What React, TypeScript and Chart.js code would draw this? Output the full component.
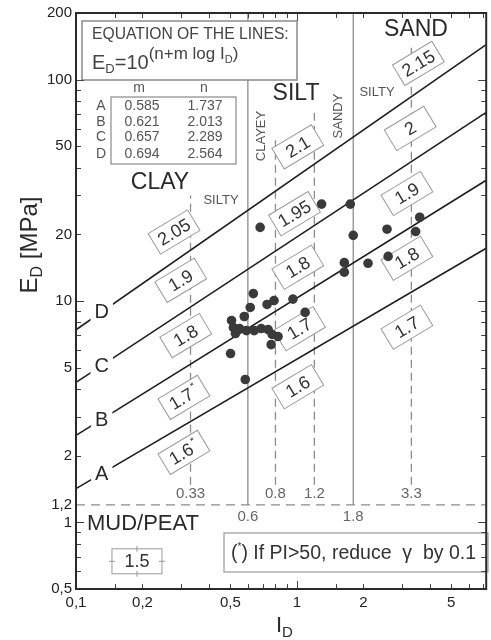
import React, { useEffect, useRef } from 'react';
import { Chart, registerables } from 'chart.js';

Chart.register(...registerables);

// ---------------- data ----------------
const lineNames = ['A', 'B', 'C', 'D'];
const tableM = ['0.585', '0.621', '0.657', '0.694'];
const tableN = ['1.737', '2.013', '2.289', '2.564'];
const lineStartID = [0.1, 0.1, 0.1, 0.1];
const lineEndID = [7.2, 7.2, 7.2, 7.2];
const lineStartED = [1.42, 2.47, 4.29, 7.41];
const lineEndED = [17.3, 35.1, 71.1, 144];
const letterID = 0.1308;

const pointID = [
  0.682, 1.294, 1.746, 1.8, 2.56, 3.6, 3.45, 1.64, 1.64, 2.1, 2.59,
  0.635, 0.788, 0.733, 0.96, 1.09, 0.615, 0.578, 0.506, 0.516, 0.55,
  0.591, 0.641, 0.69, 0.741, 0.773, 0.822, 0.765, 0.501, 0.584, 0.527,
];
const pointED = [
  21.5, 27.4, 27.4, 19.8, 21.1, 23.9, 20.6, 14.9, 13.5, 14.8, 15.9,
  10.8, 10.05, 9.65, 10.2, 8.88, 9.35, 8.51, 8.17, 7.58, 7.51,
  7.35, 7.35, 7.51, 7.43, 7.06, 6.91, 6.35, 5.79, 4.42, 7.13,
];

const xMin = 0.1;
const xMax = 7.2;
const yMin = 0.5;
const yMax = 200;

const xTickValues = [0.1, 0.2, 0.5, 1, 2, 5];
const xTickLabels = ['0,1', '0,2', '0,5', '1', '2', '5'];
const yTickValues = [0.5, 1, 1.2, 2, 5, 10, 20, 50, 100, 200];
const yTickLabels = ['0,5', '1', '1,2', '2', '5', '10', '20', '50', '100', '200'];

const xMinorMarks = [0.15, 0.2, 0.3, 0.4, 0.5, 0.6, 0.7, 0.8, 0.9, 1.5, 2, 3, 4, 5, 6, 7];
const xMajorMarks = [1];
const yMinorMarks = [0.6, 0.7, 0.8, 0.9, 2, 3, 4, 5, 6, 7, 8, 9, 20, 30, 40, 50, 60, 70, 80, 90];
const yMajorMarks = [1, 10, 100];

const mudLimit = 1.2;
const solidBounds = [0.6, 1.8];
const dashedBounds = [0.33, 0.8, 1.2, 3.3];
const dashedTops = [30.0, 53.3, 71.3, 143];
const dashedBottom = 1.48;
const boundLabelsUpper = ['0.33', '0.8', '1.2', '3.3'];
const boundLabelsLower = ['0.6', '1.8'];
const upperLabelED = 1.345;
const lowerLabelED = 1.06;

const gammaText = ['2.05', '1.9', '1.8', '1.7', '1.6', '2.1', '1.95', '1.8', '1.7', '1.6', '2.15', '2', '1.9', '1.8', '1.7'];
const gammaStar = [false, false, false, true, true, false, false, false, false, false, false, false, false, false, false];
const gammaID = [0.278, 0.298, 0.314, 0.308, 0.308, 1.01, 0.976, 1.01, 1.028, 1.01, 3.55, 3.26, 3.15, 3.15, 3.15];
const gammaED = [20.5, 12.4, 6.98, 3.67, 2.07, 49.7, 24.8, 14.2, 7.49, 4.1, 118.4, 60.2, 30.6, 15.6, 7.61];
const mudGammaText = '1.5';
const mudGammaID = 0.1888;
const mudGammaED = 0.667;

// ---------------- style helpers ----------------
const FAMILY = '"Liberation Sans", Arial, Helvetica, sans-serif';
const font = (size: number, weight = 'normal') => `${weight} ${size}px ${FAMILY}`;

function drawAnnotations(chart: any) {
  const { ctx, chartArea: a, scales } = chart;
  const xs = scales.x;
  const ys = scales.y;
  const X = (v: number) => xs.getPixelForValue(v);
  const Y = (v: number) => ys.getPixelForValue(v);
  const R = (rx: number, ry: number): [number, number] => [a.left + rx - 76, a.top + ry - 13];

  ctx.save();

  // ---- letters on lines ----
  lineNames.forEach((name, i) => {
    const x0 = X(lineStartID[i]);
    const y0 = Y(lineStartED[i]);
    const x1 = X(lineEndID[i]);
    const y1 = Y(lineEndED[i]);
    const lx = X(letterID);
    const ly = y0 + ((lx - x0) / (x1 - x0)) * (y1 - y0);
    ctx.font = font(20);
    const w = ctx.measureText(name).width;
    ctx.fillStyle = '#fff';
    ctx.fillRect(lx - w / 2 - 4, ly - 11, w + 8, 22);
    ctx.fillStyle = '#2a2a2a';
    ctx.textAlign = 'center';
    ctx.textBaseline = 'middle';
    ctx.fillText(name, lx, ly + 1);
  });

  // ---- boundary labels ----
  ctx.font = font(15);
  ctx.fillStyle = '#666';
  ctx.textAlign = 'center';
  ctx.textBaseline = 'middle';
  dashedBounds.forEach((v, i) => ctx.fillText(boundLabelsUpper[i], X(v), Y(upperLabelED)));
  solidBounds.forEach((v, i) => ctx.fillText(boundLabelsLower[i], X(v), Y(lowerLabelED)));

  // ---- gamma boxes ----
  const slope = 0.6;
  const angle = Math.atan2(Y(Math.pow(10, slope)) - Y(1), X(10) - X(1));
  gammaText.forEach((t, i) => {
    const cx = X(gammaID[i]);
    const cy = Y(gammaED[i]);
    ctx.save();
    ctx.translate(cx, cy);
    ctx.rotate(angle);
    const w = 46;
    const h = 24;
    ctx.fillStyle = '#fff';
    ctx.fillRect(-w / 2, -h / 2, w, h);
    ctx.strokeStyle = '#9a9a9a';
    ctx.lineWidth = 1;
    ctx.strokeRect(-w / 2, -h / 2, w, h);
    ctx.fillStyle = '#333';
    ctx.font = font(18);
    ctx.textAlign = 'center';
    ctx.textBaseline = 'middle';
    const tw = ctx.measureText(t).width;
    ctx.fillText(t, gammaStar[i] ? -3 : 0, 1);
    if (gammaStar[i]) {
      ctx.font = font(10);
      ctx.fillText('*', tw / 2 + 1, -5);
    }
    ctx.restore();
  });

  // mud gamma box (not rotated)
  {
    const cx = X(mudGammaID);
    const cy = Y(mudGammaED);
    const w = 50;
    const h = 25;
    ctx.fillStyle = '#fff';
    ctx.fillRect(cx - w / 2, cy - h / 2, w, h);
    ctx.strokeStyle = '#9a9a9a';
    ctx.lineWidth = 1;
    ctx.strokeRect(cx - w / 2, cy - h / 2, w, h);
    ctx.beginPath();
    ctx.moveTo(cx - w / 2 - 3, cy);
    ctx.lineTo(cx - w / 2 + 3, cy);
    ctx.moveTo(cx + w / 2 - 3, cy);
    ctx.lineTo(cx + w / 2 + 3, cy);
    ctx.moveTo(cx, cy - h / 2 - 3);
    ctx.lineTo(cx, cy - h / 2 + 3);
    ctx.moveTo(cx, cy + h / 2 - 3);
    ctx.lineTo(cx, cy + h / 2 + 3);
    ctx.stroke();
    ctx.fillStyle = '#333';
    ctx.font = font(18);
    ctx.textAlign = 'center';
    ctx.textBaseline = 'middle';
    ctx.fillText(mudGammaText, cx, cy + 1);
  }

  // ---- equation box ----
  {
    const [bx0, by0] = R(82, 21);
    const [bx1, by1] = R(297, 80);
    ctx.fillStyle = '#fff';
    ctx.fillRect(bx0, by0, bx1 - bx0, by1 - by0);
    ctx.strokeStyle = '#8a8a8a';
    ctx.lineWidth = 1.5;
    ctx.strokeRect(bx0, by0, bx1 - bx0, by1 - by0);

    ctx.fillStyle = '#444';
    ctx.textAlign = 'left';
    ctx.textBaseline = 'alphabetic';
    ctx.font = font(15.7);
    const [tx, ty] = R(92, 39);
    ctx.fillText('EQUATION OF THE LINES:', tx, ty);

    let [ex, ey] = R(92, 69);
    ctx.font = font(20);
    ctx.fillText('E', ex, ey);
    ex += ctx.measureText('E').width;
    ctx.font = font(13);
    ctx.fillText('D', ex, ey + 4);
    ex += ctx.measureText('D').width;
    ctx.font = font(20);
    ctx.fillText('=10', ex, ey);
    ex += ctx.measureText('=10').width;
    ctx.font = font(17);
    ctx.fillText('(n+m log I', ex, ey - 10);
    ex += ctx.measureText('(n+m log I').width;
    ctx.font = font(11);
    ctx.fillText('D', ex, ey - 6);
    ex += ctx.measureText('D').width;
    ctx.font = font(17);
    ctx.fillText(')', ex, ey - 10);
  }

  // ---- coefficient table ----
  {
    ctx.fillStyle = '#555';
    ctx.font = font(14);
    ctx.textAlign = 'center';
    ctx.textBaseline = 'middle';
    const [mx, hy] = R(139, 88);
    const [nx] = R(204, 88);
    ctx.fillText('m', mx, hy);
    ctx.fillText('n', nx, hy);
    const [tbx0, tby0] = R(111, 97);
    const [tbx1, tby1] = R(236, 164);
    ctx.strokeStyle = '#8a8a8a';
    ctx.lineWidth = 1.2;
    ctx.strokeRect(tbx0, tby0, tbx1 - tbx0, tby1 - tby0);
    const rowsY = [106, 122, 137.5, 154];
    const [lx] = R(101, 0);
    const [vmx] = R(142, 0);
    const [vnx] = R(205, 0);
    lineNames.forEach((name, i) => {
      const [, ry] = R(0, rowsY[i]);
      ctx.fillText(name, lx, ry);
      ctx.fillText(tableM[i], vmx, ry);
      ctx.fillText(tableN[i], vnx, ry);
    });
  }

  // ---- soil region labels ----
  ctx.fillStyle = '#2a2a2a';
  ctx.textAlign = 'center';
  ctx.textBaseline = 'middle';
  ctx.font = font(23);
  {
    const [x1, y1] = R(160, 183);
    ctx.fillText('CLAY', x1, y1);
    const [x2, y2] = R(296, 94);
    ctx.fillText('SILT', x2, y2);
    const [x3, y3] = R(416, 30);
    ctx.fillText('SAND', x3, y3);
  }
  ctx.fillStyle = '#555';
  ctx.font = font(13);
  {
    const [x1, y1] = R(221, 200);
    ctx.fillText('SILTY', x1, y1);
    const [x2, y2] = R(377, 92);
    ctx.fillText('SILTY', x2, y2);
    const [x3, y3] = R(261, 136);
    ctx.save();
    ctx.translate(x3, y3);
    ctx.rotate(-Math.PI / 2);
    ctx.fillText('CLAYEY', 0, 0);
    ctx.restore();
    const [x4, y4] = R(338, 116);
    ctx.save();
    ctx.translate(x4, y4);
    ctx.rotate(-Math.PI / 2);
    ctx.fillText('SANDY', 0, 0);
    ctx.restore();
  }

  // MUD/PEAT
  {
    ctx.font = font(22);
    const [mx, my] = R(143, 523);
    const w = ctx.measureText('MUD/PEAT').width;
    ctx.fillStyle = '#fff';
    ctx.fillRect(mx - w / 2 - 4, my - 13, w + 8, 26);
    ctx.fillStyle = '#2a2a2a';
    ctx.fillText('MUD/PEAT', mx, my + 1);
  }

  // note box
  {
    const [bx0, by0] = R(224, 533);
    const [bx1, by1] = R(488, 572);
    ctx.fillStyle = '#fff';
    ctx.fillRect(bx0, by0, bx1 - bx0, by1 - by0);
    ctx.strokeStyle = '#9a9a9a';
    ctx.lineWidth = 1.2;
    ctx.strokeRect(bx0, by0, bx1 - bx0, by1 - by0);
    ctx.fillStyle = '#333';
    ctx.textAlign = 'left';
    ctx.textBaseline = 'alphabetic';
    let [nx, ny] = R(231, 559);
    ctx.font = font(19.5);
    ctx.fillText('(', nx, ny);
    nx += ctx.measureText('(').width;
    ctx.font = font(10);
    ctx.fillText('*', nx, ny - 9);
    nx += ctx.measureText('*').width;
    ctx.font = font(19.5);
    const rest = ') If PI>50, reduce  \u03b3  by 0.1';
    ctx.fillText(rest, nx, ny);
  }

  ctx.restore();
}

function drawFrame(chart: any) {
  const { ctx, chartArea: a, scales } = chart;
  const xs = scales.x;
  const ys = scales.y;
  ctx.save();
  ctx.strokeStyle = '#444';
  ctx.lineWidth = 1;
  const tick = (x0: number, y0: number, x1: number, y1: number) => {
    ctx.beginPath();
    ctx.moveTo(x0, y0);
    ctx.lineTo(x1, y1);
    ctx.stroke();
  };
  xMinorMarks.forEach((v) => {
    const p = Math.round(xs.getPixelForValue(v)) + 0.5;
    tick(p, a.bottom, p, a.bottom - 5);
    tick(p, a.top, p, a.top + 5);
  });
  xMajorMarks.forEach((v) => {
    const p = Math.round(xs.getPixelForValue(v)) + 0.5;
    tick(p, a.bottom, p, a.bottom - 8);
    tick(p, a.top, p, a.top + 8);
  });
  yMinorMarks.forEach((v) => {
    const p = Math.round(ys.getPixelForValue(v)) + 0.5;
    tick(a.left, p, a.left + 5, p);
    tick(a.right, p, a.right - 5, p);
  });
  yMajorMarks.forEach((v) => {
    const p = Math.round(ys.getPixelForValue(v)) + 0.5;
    tick(a.left, p, a.left + 8, p);
    tick(a.right, p, a.right - 8, p);
  });

  ctx.strokeStyle = '#2a2a2a';
  ctx.lineWidth = 2;
  ctx.strokeRect(a.left, a.top, a.right - a.left, a.bottom - a.top);

  // axis titles
  ctx.fillStyle = '#2a2a2a';
  ctx.textBaseline = 'alphabetic';
  ctx.textAlign = 'left';
  ctx.save();
  ctx.translate(37, 245);
  ctx.rotate(-Math.PI / 2);
  ctx.font = font(24);
  const wE = ctx.measureText('E').width;
  const wRest = ctx.measureText(' [MPa]').width;
  ctx.font = font(16);
  const wD = ctx.measureText('D').width;
  let x = -(wE + wD + wRest) / 2;
  ctx.font = font(24);
  ctx.fillText('E', x, 0);
  x += wE;
  ctx.font = font(16);
  ctx.fillText('D', x, 5);
  x += wD;
  ctx.font = font(24);
  ctx.fillText(' [MPa]', x, 0);
  ctx.restore();
  ctx.font = font(22);
  const wI = ctx.measureText('I').width;
  ctx.fillText('I', 276, 632);
  ctx.font = font(15);
  ctx.fillText('D', 276 + wI, 637);
  ctx.restore();
}

const overlayPlugin = {
  id: 'overlay',
  beforeDatasetDraw(chart: any, args: any) {
    if (args.index === 0) drawAnnotations(chart);
  },
  afterDraw(chart: any) {
    drawFrame(chart);
  },
};

export default function App() {
  const ref = useRef<HTMLCanvasElement>(null);

  useEffect(() => {
    const canvas = ref.current;
    if (!canvas) return;

    const points = pointID.map((x, i) => ({ x, y: pointED[i] }));

    const datasets: any[] = [];
    datasets.push({
      label: 'points',
      data: points,
      pointRadius: 4.8,
      pointBackgroundColor: '#3a3a3a',
      pointBorderColor: '#3a3a3a',
      pointBorderWidth: 0,
      showLine: false,
    });
    lineNames.forEach((name, i) => {
      datasets.push({
        label: name,
        data: [
          { x: lineStartID[i], y: lineStartED[i] },
          { x: lineEndID[i], y: lineEndED[i] },
        ],
        showLine: true,
        borderColor: '#1e1e1e',
        borderWidth: 1.6,
        pointRadius: 0,
        fill: false,
      });
    });
    solidBounds.forEach((v) => {
      datasets.push({
        label: 'b' + v,
        data: [
          { x: v, y: mudLimit },
          { x: v, y: yMax },
        ],
        showLine: true,
        borderColor: '#8c8c8c',
        borderWidth: 1.3,
        pointRadius: 0,
      });
    });
    dashedBounds.forEach((v, i) => {
      datasets.push({
        label: 'd' + v,
        data: [
          { x: v, y: dashedBottom },
          { x: v, y: dashedTops[i] },
        ],
        showLine: true,
        borderColor: '#8c8c8c',
        borderWidth: 1.3,
        borderDash: [8, 5],
        pointRadius: 0,
      });
    });
    datasets.push({
      label: 'mud',
      data: [
        { x: xMin, y: mudLimit },
        { x: xMax, y: mudLimit },
      ],
      showLine: true,
      borderColor: '#8c8c8c',
      borderWidth: 1.3,
      borderDash: [9, 6],
      pointRadius: 0,
    });

    const chart = new Chart(canvas, {
      type: 'scatter',
      data: { datasets },
      options: {
        animation: false,
        responsive: false,
        maintainAspectRatio: false,
        devicePixelRatio: 1,
        layout: { padding: { top: 13, right: 1, left: 0, bottom: 0 } },
        plugins: {
          legend: { display: false },
          tooltip: { enabled: false },
        },
        scales: {
          x: {
            type: 'logarithmic',
            min: xMin,
            max: xMax,
            grid: { display: false, drawTicks: false },
            border: { display: false },
            afterBuildTicks: (s: any) => {
              s.ticks = xTickValues.map((v) => ({ value: v }));
            },
            afterFit: (s: any) => {
              s.height = 51;
            },
            ticks: {
              autoSkip: false,
              maxRotation: 0,
              padding: 5,
              color: '#222',
              font: { family: FAMILY, size: 15 },
              callback: (_v: any, i: number) => xTickLabels[i],
            },
          },
          y: {
            type: 'logarithmic',
            min: yMin,
            max: yMax,
            grid: { display: false, drawTicks: false },
            border: { display: false },
            afterBuildTicks: (s: any) => {
              s.ticks = yTickValues.map((v) => ({ value: v }));
            },
            afterFit: (s: any) => {
              s.width = 76;
            },
            ticks: {
              autoSkip: false,
              padding: 4,
              color: '#222',
              font: { family: FAMILY, size: 15 },
              callback: (_v: any, i: number) => yTickLabels[i],
            },
          },
        },
      } as any,
      plugins: [overlayPlugin],
    });

    return () => chart.destroy();
  }, []);

  return (
    <div style={{ position: 'absolute', left: 0, top: 0, width: 491, height: 640, background: '#fff' }}>
      <canvas ref={ref} width={491} height={640} style={{ display: 'block', width: 491, height: 640 }} />
    </div>
  );
}
